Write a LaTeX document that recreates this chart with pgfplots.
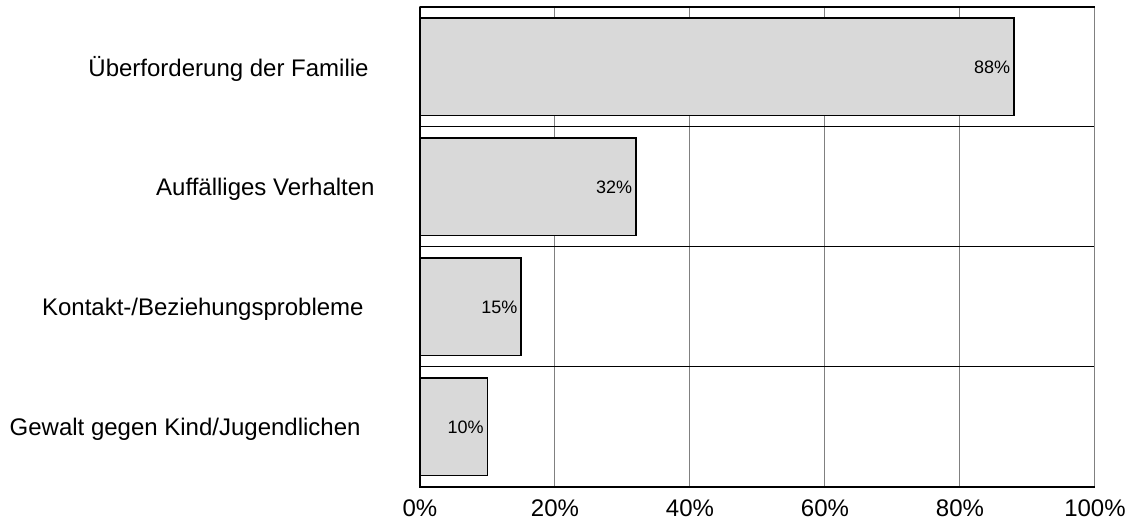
\documentclass[border=0pt]{standalone}
\usepackage{fontspec}
\setmainfont{Liberation Sans}
\usepackage{pgfplots}
\pgfplotsset{compat=1.18}
\definecolor{barfill}{RGB}{217,217,217}
\definecolor{gridgray}{RGB}{128,128,128}

\begin{document}
\begin{tikzpicture}
    \begin{axis}[
        xbar,
        scale only axis,
        width=337.5pt, height=240pt,
        xmin=0, xmax=100,
        ymin=-0.5, ymax=3.5,
        xtick={0,20,40,60,80,100},
        xticklabel={\pgfmathprintnumber{\tick}\%},
        ytick={0,1,2,3},
        yticklabels={
            {Gewalt gegen Kind/Jugendlichen\hspace*{29.5pt}},
            {Kontakt-/Beziehungsprobleme\hspace*{28pt}},
            {Auffälliges Verhalten\hspace*{22.5pt}},
            {Überforderung der Familie\hspace*{25.5pt}}},
        minor ytick={0.5,1.5,2.5},
        major tick length=0pt,
        minor tick length=0pt,
        xmajorgrids=true,
        yminorgrids=true,
        major grid style={gridgray, line width=0.5pt},
        minor grid style={black, line width=0.5pt},
        axis line style={gridgray, line width=0.5pt},
        /pgf/number format/assume math mode=true,
        tick label style={font=\fontsize{12}{14}\selectfont},
        xticklabel style={inner sep=0pt, yshift=-6pt},
        yticklabel style={inner sep=0pt, anchor=east, yshift=-1.2pt},
        bar width=0.81,
        nodes near coords={\pgfmathprintnumber{\pgfplotspointmeta}\%},
        every node near coord/.append style={anchor=east, inner sep=1.5pt,
            font=\fontsize{9}{10}\selectfont},
    ]
    \addplot[fill=barfill, draw=black, line width=0.9pt]
        coordinates {(10,0) (15,1) (32,2) (88,3)};
    \end{axis}
    % frame: black on left, bottom and top, grey on the right
    \draw[black, line width=0.9pt] (0,240pt) -- (0,0) -- (337.5pt,0);
    \draw[black, line width=0.6pt] (0,240pt) -- (337.5pt,240pt);
    \path (-210pt,-18.5pt) rectangle (355.5pt,243.5pt);
\end{tikzpicture}
\end{document}
